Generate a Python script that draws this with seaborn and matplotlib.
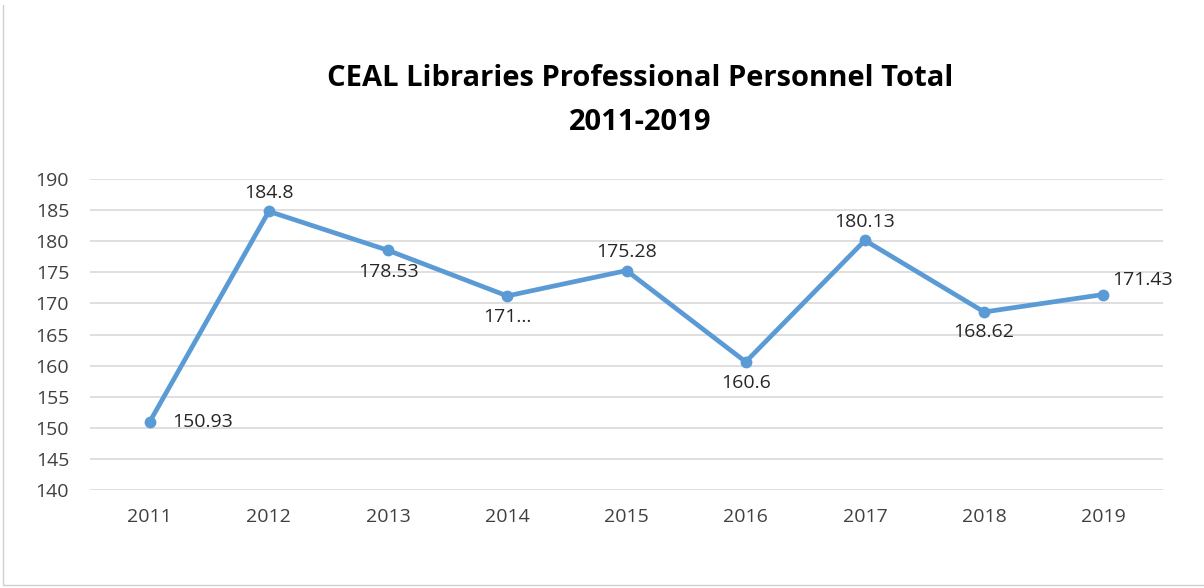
import matplotlib
matplotlib.use("Agg")
import matplotlib.pyplot as plt
import seaborn as sns
import pandas as pd
from matplotlib.lines import Line2D

years = ["2011", "2012", "2013", "2014", "2015", "2016", "2017", "2018", "2019"]
values = [150.93, 184.8, 178.53, 171.2, 175.28, 160.6, 180.13, 168.62, 171.43]
labels = ["150.93", "184.8", "178.53", "171...", "175.28", "160.6", "180.13", "168.62", "171.43"]
yticks = [140, 145, 150, 155, 160, 165, 170, 175, 180, 185, 190]

sns.set_theme(style="white")
plt.rcParams['font.family'] = ['Open Sans', 'DejaVu Sans']

df = pd.DataFrame({"pos": range(len(years)), "value": values})

fig = plt.figure(figsize=(12.04, 5.88), dpi=100)
ax = fig.add_axes([90/1204, 1-490/588, (1163-90)/1204, (490-179)/588])

color = "#5B9BD5"
sns.lineplot(data=df, x="pos", y="value", ax=ax, color=color, linewidth=3.4,
             marker="o", markersize=8.5, markeredgewidth=0, markeredgecolor=color)

ax.set_xlim(-0.5, len(years) - 0.5)
ax.set_ylim(140, 190)
ax.set_yticks(yticks)
ax.set_xticks(range(len(years)))
ax.set_xticklabels(years)
ax.set_xlabel("")
ax.set_ylabel("")
ax.grid(axis="y", color="#D9D9D9", linewidth=1.2)
ax.grid(axis="x", visible=False)
ax.set_axisbelow(True)
for s in ax.spines.values():
    s.set_visible(False)
ax.tick_params(axis="both", length=0, labelsize=14, colors="#404040")
ax.tick_params(axis="x", pad=13)
ax.tick_params(axis="y", pad=15)

# label placement (offset in points)
offsets = [(16, 0, "left", "center"), (0, 7, "center", "bottom"), (0, -9, "center", "top"),
           (0, -9, "center", "top"), (0, 7, "center", "bottom"), (0, -9, "center", "top"),
           (0, 7, "center", "bottom"), (0, -8, "center", "top"), (6, 4, "left", "bottom")]
for i, (v, lab) in enumerate(zip(values, labels)):
    dx, dy, ha, va = offsets[i]
    ax.annotate(lab, (i, v), xytext=(dx, dy), textcoords="offset points",
                ha=ha, va=va, fontsize=14, color="#262626")

fig.text(640/1204, 1-78/588, "CEAL Libraries Professional Personnel Total",
         ha="center", va="center", fontsize=21, fontweight="bold", color="#000000")
fig.text(640/1204, 1-122/588, "2011-2019",
         ha="center", va="center", fontsize=21, fontweight="bold", color="#000000")

# partial chart frame (left and bottom edges)
fig.add_artist(Line2D([3/1204, 3/1204], [1-585/588, 1-5/588], transform=fig.transFigure,
                      color="#D0D0D0", linewidth=1))
fig.add_artist(Line2D([3/1204, 1], [1-585/588, 1-585/588], transform=fig.transFigure,
                      color="#D0D0D0", linewidth=1))

fig.savefig("out.png", dpi=100)
